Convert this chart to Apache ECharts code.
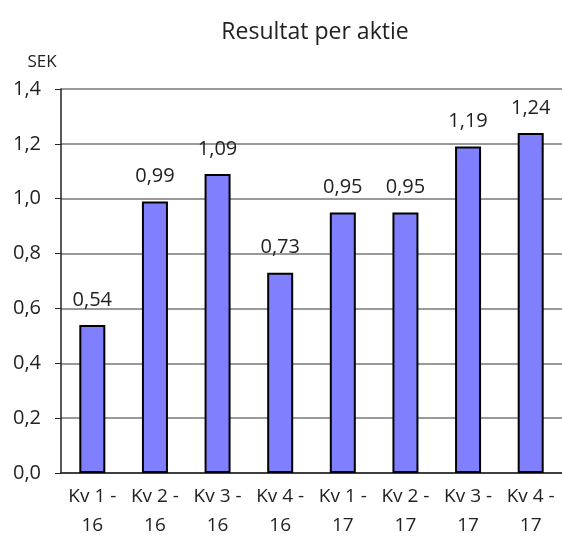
<!DOCTYPE html>
<html>
<head>
<meta charset="utf-8">
<script src="https://cdn.jsdelivr.net/npm/echarts@6/dist/echarts.min.js"></script>
<style>
  html, body { margin: 0; padding: 0; background: #fff; }
  #chart { width: 562px; height: 540px; }
</style>
</head>
<body>
<div id="chart"></div>
<script>
const categories = ["Kv 1 -\n16", "Kv 2 -\n16", "Kv 3 -\n16", "Kv 4 -\n16",
                    "Kv 1 -\n17", "Kv 2 -\n17", "Kv 3 -\n17", "Kv 4 -\n17"];
const values = [0.54, 0.99, 1.09, 0.73, 0.95, 0.95, 1.19, 1.24];

const font = "'Open Sans', 'DejaVu Sans', sans-serif";
const comma = v => v.toFixed(2).replace('.', ',');

let chart = echarts.init(document.getElementById('chart'));
chart.setOption({
  animation: false,
  title: {
    text: "Resultat per aktie",
    left: 310, top: 16, textAlign: 'center',
    textStyle: { fontFamily: font, fontSize: 23, fontWeight: 'normal', color: '#222' }
  },
  grid: { left: 61, top: 89, width: 504, height: 387, containLabel: false },
  xAxis: {
    type: 'category',
    data: categories,
    axisLine: { lineStyle: { color: '#222', width: 1.5 } },
    axisTick: { show: false },
    axisLabel: { fontFamily: font, fontSize: 19, color: '#222', lineHeight: 29, margin: 9, interval: 0 }
  },
  yAxis: {
    type: 'value',
    min: 0, max: 1.4, interval: 0.2,
    name: 'SEK',
    nameLocation: 'end',
    nameGap: 18,
    nameTextStyle: { fontFamily: font, fontSize: 17, color: '#222', align: 'center', padding: [0, 0, 0, -38] },
    axisLine: { show: true, lineStyle: { color: '#222', width: 1.5 } },
    axisTick: { show: true, length: 6, lineStyle: { color: '#222' } },
    splitLine: { lineStyle: { color: '#777', width: 1.5 } },
    axisLabel: {
      fontFamily: font, fontSize: 20, color: '#222', margin: 20,
      formatter: v => v.toFixed(1).replace('.', ',')
    }
  },
  series: [{
    type: 'bar',
    data: values,
    barWidth: 26,
    itemStyle: { color: '#8080FF', borderColor: '#000', borderWidth: 2 },
    label: {
      show: true, position: 'top', distance: 15,
      fontFamily: font, fontSize: 20, color: '#222',
      formatter: p => comma(p.value)
    }
  }]
});
</script>
</body>
</html>
